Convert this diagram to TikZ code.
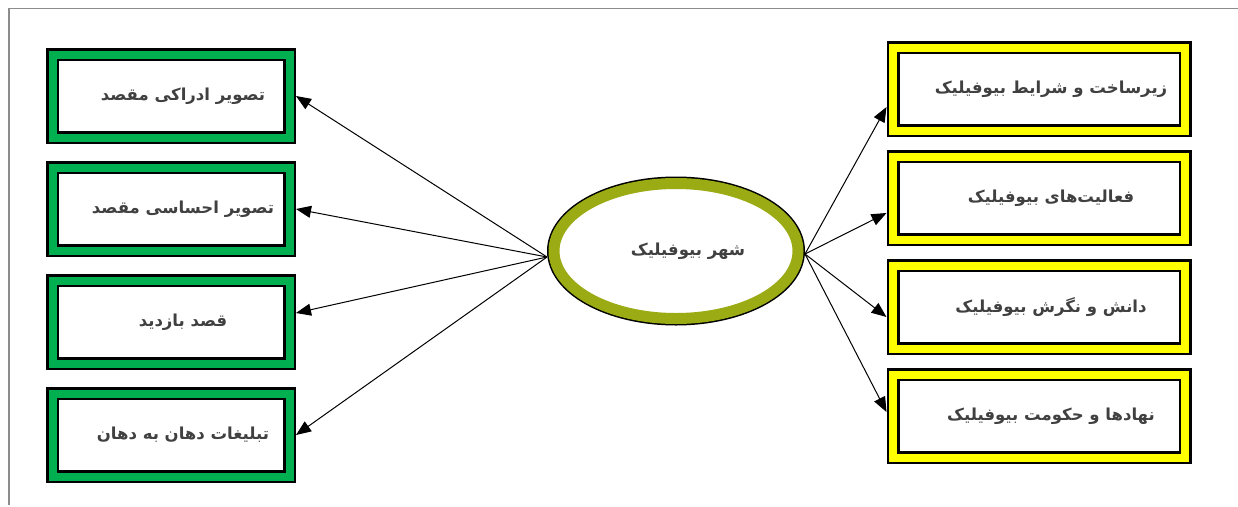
\documentclass[tikz,border=0pt]{standalone}
\usepackage{fontspec}
\newfontfamily\farsi[Script=Arabic]{DejaVu Sans}
\TeXXeTstate=1
\usepackage{xcolor}
\definecolor{boxgreen}{RGB}{0,176,80}
\definecolor{boxyellow}{RGB}{255,255,0}
\definecolor{hubolive}{RGB}{155,171,20}
\definecolor{textgray}{RGB}{64,64,64}
\definecolor{framegray}{RGB}{140,140,140}
\usetikzlibrary{shapes.geometric,arrows.meta,positioning}
\newcommand{\fa}[1]{{\farsi\bfseries\hspace*{24pt}\beginR #1\endR}}

\begin{document}
\begin{tikzpicture}[x=1pt,y=-1pt]
		\tikzstyle{leftbox}=[rectangle,draw=black,line width=2.5pt,double=boxgreen,
		double distance=8pt,fill=white,minimum width=237pt,minimum height=83pt,
		inner sep=0pt,outer sep=6.5pt,text=textgray,font=\fontsize{16.5}{20}\selectfont]
		\tikzstyle{rightbox}=[leftbox,double=boxyellow,minimum width=292pt]
		\tikzstyle{hub}=[ellipse,draw=hubolive,line width=11pt,fill=white,
		preaction={draw=black,line width=14pt},minimum width=244pt,minimum height=135pt,
		inner sep=0pt,outer sep=7pt,text=textgray,font=\fontsize{16.5}{20}\selectfont]
		\tikzstyle{link}=[line width=1pt,-{Triangle[length=15pt,width=12pt]}]
		\useasboundingbox (0,0) rectangle (1238,506);
		\draw[framegray,line width=1.2pt] (9,505) -- (9,8.5) -- (1238,8.5);
		\node[leftbox] (img1) at (171,96) {\fa{تصویر ادراکی مقصد}};
		\node[leftbox,below=17pt of img1] (img2) {\fa{تصویر احساسی مقصد}};
		\node[leftbox,below=17pt of img2] (visit) {\fa{قصد بازدید}};
		\node[leftbox,below=17pt of visit] (wom) {\fa{تبلیغات دهان به دهان}};
		\node[hub] (city) at (676,251) {\fa{شهر بیوفیلیک}};
		\node[rightbox] (infra) at (1039,89) {\fa{زیرساخت و شرایط بیوفیلیک}};
		\node[rightbox,below=13pt of infra] (act) {\fa{فعالیت‌های بیوفیلیک}};
		\node[rightbox,below=13pt of act] (know) {\fa{دانش و نگرش بیوفیلیک}};
		\node[rightbox,below=13pt of know] (gov) {\fa{نهادها و حکومت بیوفیلیک}};
		\coordinate (cw) at ([yshift=-6pt]city.west);
		\coordinate (ce) at ([yshift=-3pt]city.east);
		\draw[link] (cw) -- (img1.east);
		\draw[link] (cw) -- (img2.east);
		\draw[link] (cw) -- ([yshift=9pt]visit.east);
		\draw[link] (cw) -- (wom.east);
		\draw[link] (ce) -- ([yshift=-18pt]infra.west);
		\draw[link] (ce) -- ([yshift=-15pt]act.west);
		\draw[link] (ce) -- ([yshift=-10pt]know.west);
		\draw[link] (ce) -- ([yshift=4pt]gov.west);
	\end{tikzpicture}
\end{document}
